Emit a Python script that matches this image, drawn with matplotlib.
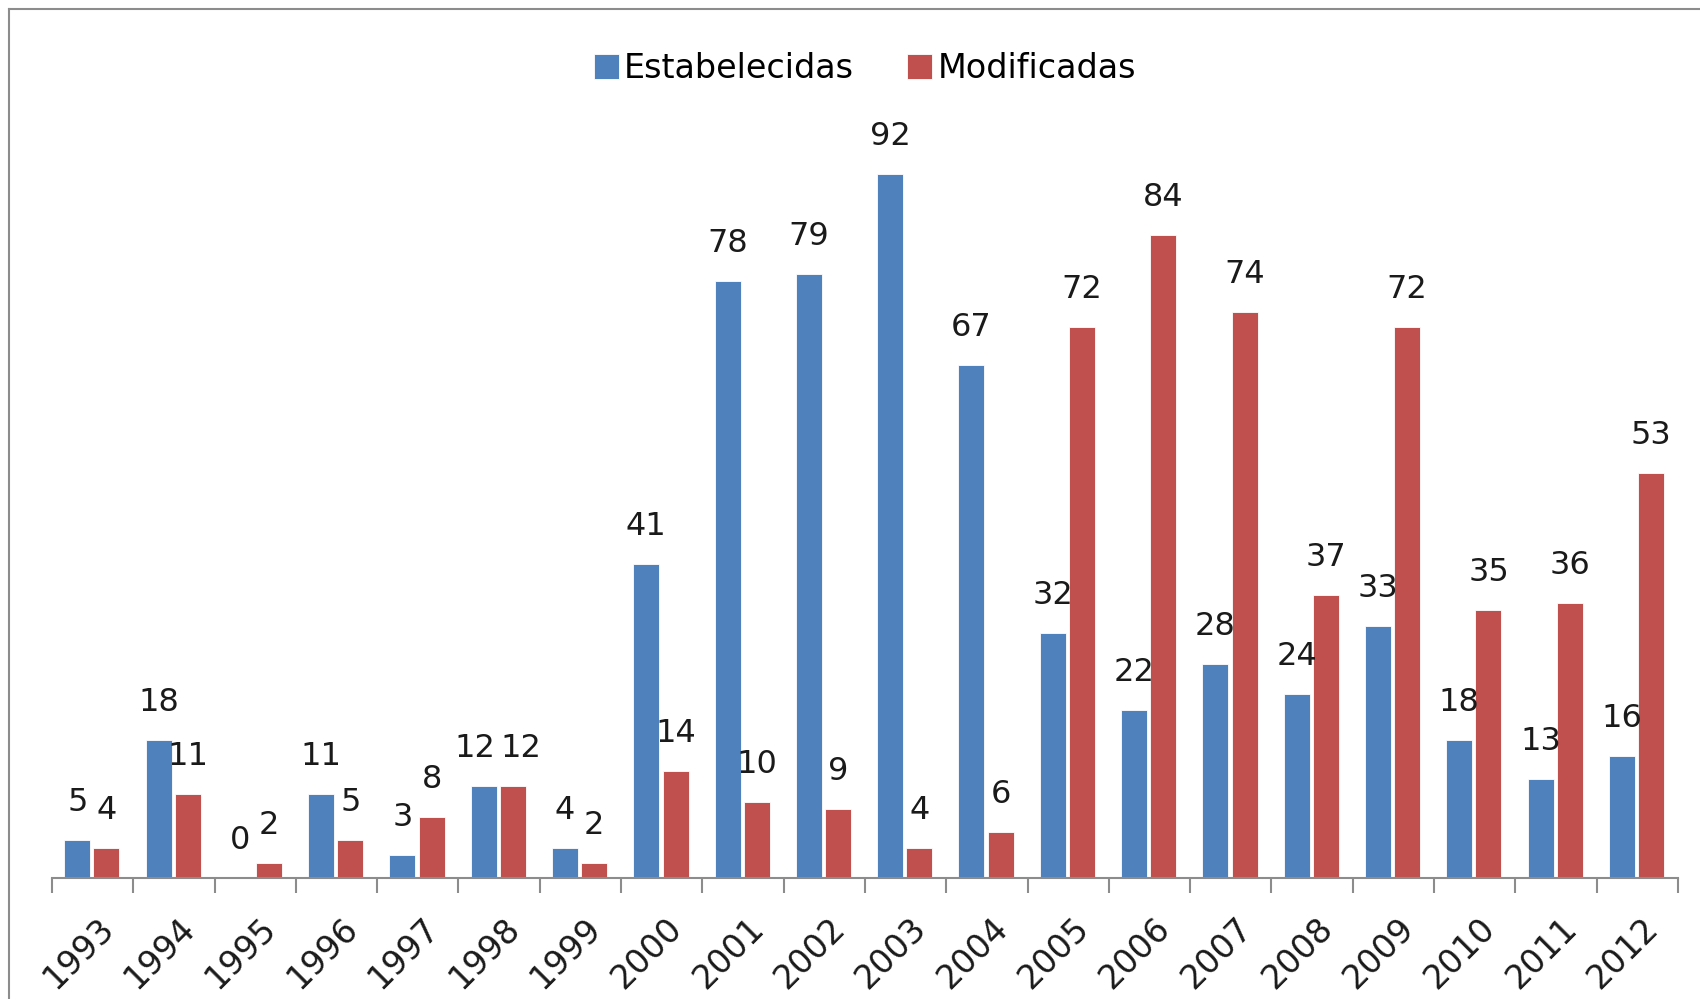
# Import libraries
import numpy as np
import matplotlib.pyplot as plt
from matplotlib.lines import Line2D

# data
years = ['1993', '1994', '1995', '1996', '1997', '1998', '1999', '2000', '2001', '2002',
         '2003', '2004', '2005', '2006', '2007', '2008', '2009', '2010', '2011', '2012']
estabelecidas = [5, 18, 0, 11, 3, 12, 4, 41, 78, 79, 92, 67, 32, 22, 28, 24, 33, 18, 13, 16]
modificadas = [4, 11, 2, 5, 8, 12, 2, 14, 10, 9, 4, 6, 72, 84, 74, 37, 72, 35, 36, 53]

blue = '#4F81BD'
red = '#C0504D'
fs = 23

fig = plt.figure(figsize=(17, 9.99), dpi=100)
ax = fig.add_axes([0.0306, 0.121, 0.9564, 0.766])

x = np.arange(len(years))
w = 0.32
b1 = ax.bar(x - 0.19, estabelecidas, w, color=blue, edgecolor='white', linewidth=0.6, label='Estabelecidas')
b2 = ax.bar(x + 0.17, modificadas, w, color=red, edgecolor='white', linewidth=0.6, label='Modificadas')

# value labels; push apart two-digit labels of equal height so they do not collide
for i in range(len(years)):
    close = abs(estabelecidas[i] - modificadas[i]) < 3 and min(estabelecidas[i], modificadas[i]) >= 10
    for r, v, dx in ((b1[i], estabelecidas[i], -6), (b2[i], modificadas[i], 6)):
        ax.annotate(str(v), (r.get_x() + r.get_width() / 2, v), xytext=(dx if close else 0, 27),
                    textcoords='offset points', ha='center', va='center',
                    fontsize=fs, color='#1a1a1a')

ax.set_xlim(-0.5, len(years) - 0.5)
ax.set_ylim(0, 100)
ax.set_yticks([])
for s in ['left', 'right', 'top']:
    ax.spines[s].set_visible(False)
ax.spines['bottom'].set_color('#8c8c8c')
ax.spines['bottom'].set_linewidth(1.5)

ax.set_xticks(x + 0.05)
ax.set_xticklabels(years, rotation=45, ha='right', rotation_mode='anchor', fontsize=24, color='#1a1a1a')
ax.tick_params(axis='x', which='major', length=0, pad=24)
ax.set_xticks(np.arange(len(years) + 1) - 0.5, minor=True)
ax.tick_params(axis='x', which='minor', length=11, width=1.5, color='#8c8c8c')

ax.legend(loc='center', bbox_to_anchor=(0.5, 1.058), ncol=2, frameon=False,
          fontsize=24, handlelength=0.75, handleheight=0.75, handletextpad=0.15, columnspacing=1.6)

# border
fig.add_artist(Line2D([9 / 1700, 9 / 1700], [0, 1 - 9 / 999], transform=fig.transFigure, color='#8c8c8c', lw=1.5))
fig.add_artist(Line2D([9 / 1700, 1], [1 - 9 / 999, 1 - 9 / 999], transform=fig.transFigure, color='#8c8c8c', lw=1.5))

fig.savefig('out.png', dpi=100)
